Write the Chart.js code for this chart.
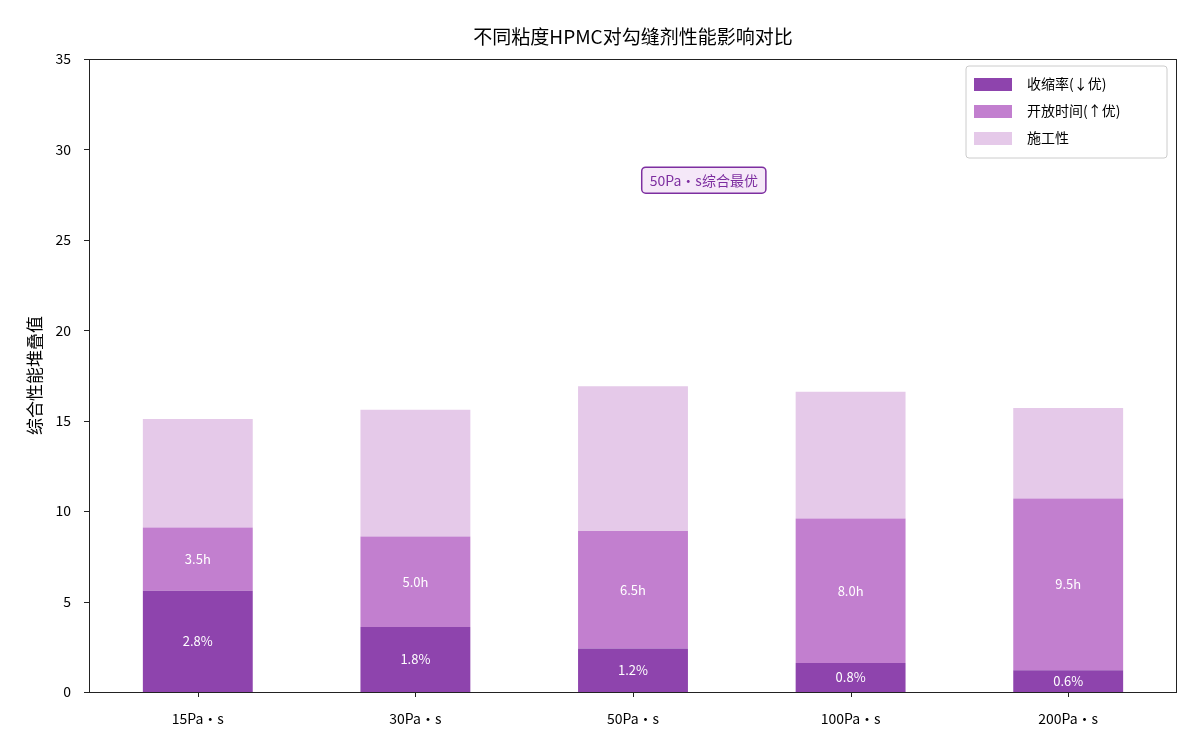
<!DOCTYPE html>
<html>
<head>
<meta charset="utf-8">
<script src="https://cdn.jsdelivr.net/npm/chart.js@4/dist/chart.umd.min.js"></script>
<style>
  html, body { margin: 0; padding: 0; background: #fff; }
  #wrap { width: 1200px; height: 750px; }
</style>
</head>
<body>
<div id="wrap"><canvas id="c" width="1200" height="750"></canvas></div>
<script>
// données
const categories = ['15Pa·s', '30Pa·s', '50Pa·s', '100Pa·s', '200Pa·s'];
const shrinkRate = [2.8, 1.8, 1.2, 0.8, 0.6];        // %
const openTime = [3.5, 5.0, 6.5, 8.0, 9.5];          // h
const workability = [6.0, 7.0, 8.0, 7.0, 5.0];
const shrinkStacked = shrinkRate.map(v => v * 2);    // empilé à x2
const yTicks = [0, 5, 10, 15, 20, 25, 30, 35];

const FONT = '"Noto Sans CJK SC", "DejaVu Sans", sans-serif';
const colors = ['#8e44ad', '#c27fcf', '#e5c9e9'];

const boxPlugin = {
  id: 'extras',
  afterDatasetsDraw(chart) {
    const ctx = chart.ctx;
    const a = chart.chartArea;
    const xs = chart.scales.x, ys = chart.scales.y;
    ctx.save();
    // cadre + graduations
    ctx.strokeStyle = '#222';
    ctx.lineWidth = 1;
    ctx.strokeRect(a.left + 0.5, a.top + 0.5, a.right - a.left - 1, a.bottom - a.top);
    ctx.beginPath();
    categories.forEach((c, i) => {
      const px = Math.round(xs.getPixelForValue(i)) + 0.5;
      ctx.moveTo(px, a.bottom);
      ctx.lineTo(px, a.bottom + 5);
    });
    yTicks.forEach(v => {
      const py = Math.round(ys.getPixelForValue(v)) + 0.5;
      ctx.moveTo(a.left, py);
      ctx.lineTo(a.left - 5, py);
    });
    ctx.stroke();

    // étiquettes dans les barres
    ctx.fillStyle = '#fff';
    ctx.font = '13px ' + FONT;
    ctx.textAlign = 'center';
    ctx.textBaseline = 'middle';
    const m0 = chart.getDatasetMeta(0), m1 = chart.getDatasetMeta(1);
    m0.data.forEach((bar, i) => {
      ctx.fillText(shrinkRate[i].toFixed(1) + '%', bar.x, (bar.y + bar.base) / 2);
    });
    m1.data.forEach((bar, i) => {
      ctx.fillText(openTime[i].toFixed(1) + 'h', bar.x, (bar.y + bar.base) / 2);
    });

    // titre
    ctx.fillStyle = '#000';
    ctx.font = '19px ' + FONT;
    ctx.fillText('不同粘度HPMC对勾缝剂性能影响对比', (a.left + a.right) / 2, 37);

    // annotation
    const ax = (xs.getPixelForValue(2) + xs.getPixelForValue(3)) / 2 - 38;
    const ay = ys.getPixelForValue(28.3);
    ctx.font = '14px ' + FONT;
    const txt = '50Pa·s综合最优';
    const w = ctx.measureText(txt).width + 16;
    const h = 26;
    ctx.beginPath();
    ctx.roundRect(ax - w / 2, ay - h / 2, w, h, 4);
    ctx.fillStyle = '#f5e8f8';
    ctx.fill();
    ctx.strokeStyle = '#7d2ea0';
    ctx.lineWidth = 1.5;
    ctx.stroke();
    ctx.fillStyle = '#7d2ea0';
    ctx.fillText(txt, ax, ay + 1);

    // légende
    const lx = 966, ly = 66, lw = 201, lh = 92;
    ctx.beginPath();
    ctx.roundRect(lx, ly, lw, lh, 3);
    ctx.fillStyle = 'rgba(255,255,255,0.85)';
    ctx.fill();
    ctx.strokeStyle = '#ccc';
    ctx.lineWidth = 1;
    ctx.stroke();
    ctx.font = '14px ' + FONT;
    ctx.textAlign = 'left';
    chart.data.datasets.forEach((ds, i) => {
      const yy = ly + 18 + i * 27;
      ctx.fillStyle = ds.backgroundColor;
      ctx.fillRect(lx + 8, yy - 6, 38, 13);
      ctx.fillStyle = '#000';
      ctx.fillText(ds.label, lx + 61, yy);
    });
    ctx.restore();
  }
};

new Chart(document.getElementById('c'), {
  type: 'bar',
  data: {
    labels: categories,
    datasets: [
      { label: '收缩率(↓优)', data: shrinkStacked, backgroundColor: colors[0] },
      { label: '开放时间(↑优)', data: openTime, backgroundColor: colors[1] },
      { label: '施工性', data: workability, backgroundColor: colors[2] }
    ]
  },
  options: {
    responsive: false,
    animation: false,
    layout: { padding: { top: 59, right: 23, left: 24, bottom: 0 } },
    datasets: { bar: { barPercentage: 0.505, categoryPercentage: 1.0 } },
    plugins: {
      legend: { display: false },
      title: { display: false },
      tooltip: { enabled: false }
    },
    scales: {
      x: {
        stacked: true,
        afterFit(s) { s.height = 58; },
        grid: { display: false },
        border: { display: false },
        ticks: { color: '#000', font: { family: FONT, size: 14 }, padding: 10 }
      },
      y: {
        stacked: true,
        min: 0,
        max: 35,
        afterFit(s) { s.width = 65; },
        afterBuildTicks(s) { s.ticks = yTicks.map(v => ({ value: v })); },
        grid: { display: false },
        border: { display: false },
        ticks: { color: '#000', font: { family: FONT, size: 14 }, padding: 10 },
        title: { display: true, text: '综合性能堆叠值', color: '#000', font: { family: FONT, size: 17 }, padding: 0 }
      }
    }
  },
  plugins: [boxPlugin]
});
</script>
</body>
</html>
